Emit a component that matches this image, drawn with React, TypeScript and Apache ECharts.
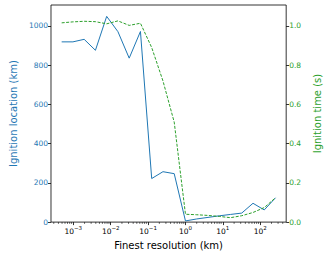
import React, { useEffect, useRef } from "react";
import * as echarts from "echarts";

const resolutions = [
  0.00048828125, 0.0009765625, 0.001953125, 0.00390625, 0.0078125, 0.015625,
  0.03125, 0.0625, 0.125, 0.25, 0.5, 1, 2, 4, 8, 16, 32, 64, 128, 256,
];
const ignitionLocation = [
  919, 919, 932, 876, 1049, 971, 836, 972, 222, 257, 247, 6, 16, 24, 32, 39, 46,
  96, 62, 124,
];
const ignitionTime = [
  1.016, 1.021, 1.024, 1.022, 1.011, 1.026, 1.003, 1.014, 0.89, 0.72, 0.51,
  0.04, 0.0375, 0.034, 0.029, 0.0225, 0.0325, 0.049, 0.074, 0.124,
];
const minorTicks = [
  3e-4, 4e-4, 5e-4, 6e-4, 7e-4, 8e-4, 9e-4,
  2e-3, 3e-3, 4e-3, 5e-3, 6e-3, 7e-3, 8e-3, 9e-3,
  2e-2, 3e-2, 4e-2, 5e-2, 6e-2, 7e-2, 8e-2, 9e-2,
  0.2, 0.3, 0.4, 0.5, 0.6, 0.7, 0.8, 0.9,
  2, 3, 4, 5, 6, 7, 8, 9,
  20, 30, 40, 50, 60, 70, 80, 90,
  200, 300, 400,
];
const xMin = 2.53e-4;
const xMax = 494;
const leftMax = 1107;
const rightMax = 1.107;

const BLUE = "#1f77b4";
const GREEN = "#2ca02c";
const FONT = "DejaVu Sans";

export default function App() {
  const ref = useRef<HTMLDivElement>(null);
  useEffect(() => {
    document.body.style.margin = "0";
    const chart = echarts.init(ref.current!, null, { renderer: "svg" });
    chart.setOption({
      animation: false,
      textStyle: { fontFamily: FONT },
      grid: {
        left: 40,
        right: 32,
        top: 5,
        bottom: 28.5,
        show: true,
        borderColor: "#000",
        borderWidth: 0.8,
      },
      xAxis: {
        type: "log",
        logBase: 10,
        min: xMin,
        max: xMax,
        splitNumber: 6,
        name: "Finest resolution (km)",
        nameLocation: "middle",
        nameGap: 11,
        nameTextStyle: { fontSize: 10, color: "#000", fontFamily: FONT, verticalAlign: "top" },
        axisLine: { show: false },
        axisTick: { show: true, length: 3, lineStyle: { color: "#000", width: 0.8 } },
        splitLine: { show: false },
        axisLabel: {
          showMinLabel: false,
          showMaxLabel: false,
          margin: 3,
          color: "#000",
          formatter: (v: number) => {
            const e = Math.round(Math.log10(v));
            return `{b|10}{s|${e < 0 ? "\u2212" : ""}${Math.abs(e)}}`;
          },
          rich: {
            b: { fontSize: 7.5, fontFamily: FONT, color: "#000", verticalAlign: "bottom" },
            s: { fontSize: 5.5, fontFamily: FONT, color: "#000", verticalAlign: "top", padding: [0, 0, 4, 0] },
          },
        },
      },
      yAxis: [
        {
          type: "value",
          min: 0,
          max: leftMax,
          interval: 200,
          name: "Ignition location (km)",
          nameLocation: "middle",
          nameGap: 29,
          nameTextStyle: { fontSize: 10, color: BLUE, fontFamily: FONT },
          axisLine: { show: false },
          axisTick: { show: true, length: 3, lineStyle: { color: "#000", width: 0.8 } },
          splitLine: { show: false },
          axisLabel: {
            color: BLUE,
            fontSize: 7.5,
            margin: 3,
            showMaxLabel: false,
            fontFamily: FONT,
            formatter: (v: number) => String(v),
          },
        },
        {
          type: "value",
          min: 0,
          max: rightMax,
          interval: 0.2,
          position: "right",
          name: "Ignition time (s)",
          nameLocation: "middle",
          nameGap: 23,
          nameRotate: 90,
          nameTextStyle: { fontSize: 10, color: GREEN, fontFamily: FONT },
          axisLine: { show: false },
          axisTick: { show: true, length: 3, lineStyle: { color: "#000", width: 0.8 } },
          splitLine: { show: false },
          axisLabel: {
            color: GREEN,
            fontSize: 7.5,
            margin: 3,
            showMaxLabel: false,
            fontFamily: FONT,
            formatter: (v: number) => v.toFixed(1),
          },
        },
      ],
      series: [
        {
          type: "line",
          yAxisIndex: 0,
          data: resolutions.map((x, i) => [x, ignitionLocation[i]]),
          showSymbol: false,
          symbol: "none",
          lineStyle: { color: BLUE, width: 1 },
          itemStyle: { color: BLUE },
          z: 3,
        },
        {
          type: "line",
          yAxisIndex: 1,
          data: resolutions.map((x, i) => [x, ignitionTime[i]]),
          showSymbol: false,
          symbol: "none",
          lineStyle: { color: GREEN, width: 1, type: [3, 1.5] },
          itemStyle: { color: GREEN },
          z: 4,
        },
        {
          type: "custom",
          yAxisIndex: 0,
          silent: true,
          clip: false,
          data: minorTicks.map((v) => [v, 0]),
          encode: { x: 0, y: 1 },
          renderItem: (_p: any, api: any) => {
            const pt = api.coord([api.value(0), 0]);
            return {
              type: "line",
              shape: { x1: pt[0], y1: pt[1], x2: pt[0], y2: pt[1] + 1.8 },
              style: { stroke: "#000", lineWidth: 0.6 },
            };
          },
        },
      ],
    });
    return () => chart.dispose();
  }, []);
  return <div ref={ref} style={{ width: 330, height: 255 }} />;
}
